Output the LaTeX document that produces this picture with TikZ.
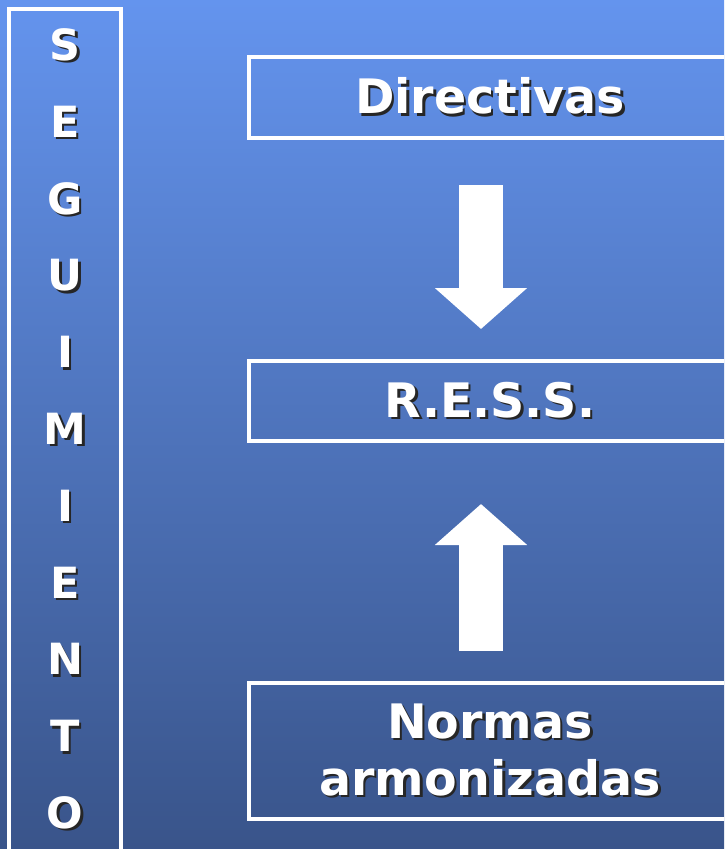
\documentclass[tikz,border=0pt]{standalone}
\usepackage{fontspec}
\setmainfont{DejaVu Sans}
\usetikzlibrary{arrows.meta}

% white text with a dark drop shadow
\newcommand{\shad}[1]{\leavevmode\rlap{\kern2.5pt\raisebox{-2.5pt}{\color{black!85}#1}}#1}

\definecolor{bgtop}{RGB}{100,148,238}
\definecolor{bgbottom}{RGB}{57,84,138}

\tikzset{
    box/.style={draw=white, line width=4pt, text=white,
        font=\bfseries\fontsize{47.5}{57}\selectfont, align=center,
        minimum width=482pt, inner sep=0pt},
    letter/.style={text=white, font=\bfseries\fontsize{43}{50}\selectfont},
    blockarrow/.style={white, line width=44pt,
        -{Triangle[width=90pt, length=41pt]}}
}

\begin{document}
\begin{tikzpicture}[x=1pt, y=-1pt]
        % Background with the blue gradient
        \useasboundingbox (0, 0) rectangle (724, 849);
        \clip (0, 0) rectangle (724, 849);
        \shade[top color=bgtop, bottom color=bgbottom] (0, 0) rectangle (724, 849);

        % Column on the left, running off the page
        \node[draw=white, line width=4pt, minimum width=112pt, minimum height=860pt,
            inner sep=0pt] (column) at (65, 439) {};
        % Fill the column with the letters
        \foreach \i/\c in {
            0/S, 1/E, 2/G, 3/U, 4/I, 5/M, 6/I, 7/E, 8/N, 9/T, 10/O
        }
        \node[letter] (l\i) at (65, 46 + 76.8*\i) {\shad{\c}};

        % The three boxes on the right
        \node[box, minimum height=81pt] (dir) at (490, 97.5) {\shad{Directivas}};
        \node[box, minimum height=80pt] (ress) at (490, 401) {\shad{R.E.S.S.}};
        \node[box, minimum height=136pt] (normas) at (490, 751)
            {\shad{Normas}\\\shad{armonizadas}};

        % Block arrows between the boxes
        \draw[blockarrow, shorten <=45pt, shorten >=30pt] ([xshift=-9pt]dir.south) -- ([xshift=-9pt]ress.north);
        \draw[blockarrow, shorten <=30pt, shorten >=61pt] ([xshift=-9pt]normas.north) -- ([xshift=-9pt]ress.south);
    \end{tikzpicture}
\end{document}
